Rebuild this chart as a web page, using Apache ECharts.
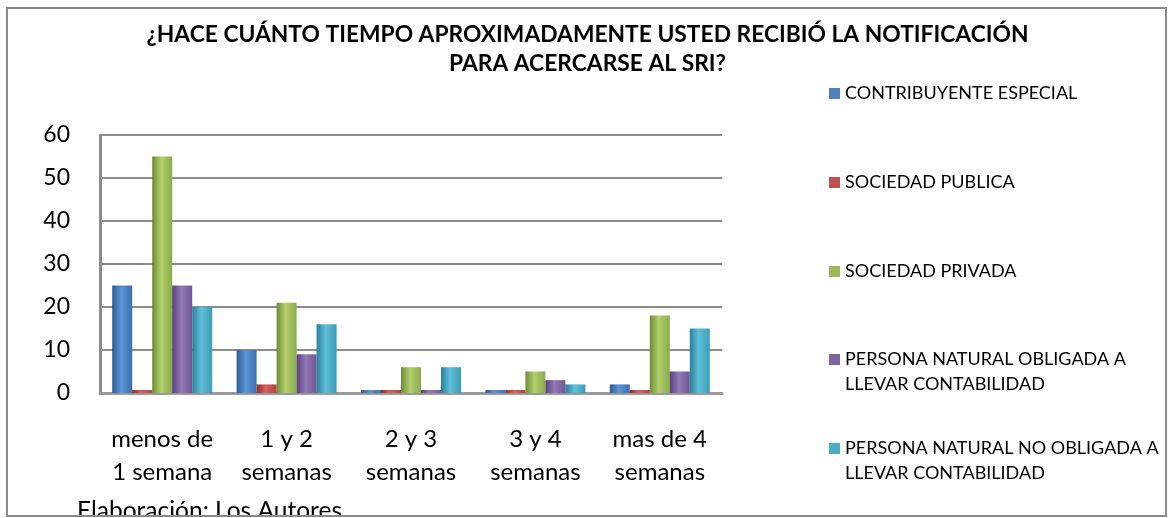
<!DOCTYPE html>
<html>
  <head>
    <title>Tiempo de notificacion SRI</title>
    <meta http-equiv="content-type" content="text/html; charset=UTF-8">
    <script src="https://cdn.jsdelivr.net/npm/echarts@6/dist/echarts.min.js"></script>
    <style>
      html, body { margin: 0; padding: 0; background: #fff; }
      #main { width: 1175px; height: 518px; }
    </style>
  </head>
  <body>
    <div id="main"></div>
  <script type="text/javascript">

// datos
var categories = ['menos de\n1 semana', '1 y 2\nsemanas', '2 y 3\nsemanas', '3 y 4\nsemanas', 'mas de 4\nsemanas'];
var seriesNames = [
  'CONTRIBUYENTE ESPECIAL',
  'SOCIEDAD PUBLICA',
  'SOCIEDAD PRIVADA',
  'PERSONA NATURAL OBLIGADA A\nLLEVAR CONTABILIDAD',
  'PERSONA NATURAL NO OBLIGADA A\nLLEVAR CONTABILIDAD'
];
var contribuyente = [25, 10, 0, 0, 2];
var sociedadPublica = [0, 2, 0, 0, 0];
var sociedadPrivada = [55, 21, 6, 5, 18];
var naturalObligada = [25, 9, 0, 3, 5];
var naturalNoObligada = [20, 16, 6, 2, 15];
var yMin = 0, yMax = 60, yStep = 10;

var values = [contribuyente, sociedadPublica, sociedadPrivada, naturalObligada, naturalNoObligada];

// colores: base, sombra izq, brillo, sombra der
var palette = [
  ['#4F81BD', '#2c5a93', '#5c95d6', '#3d6fae'],
  ['#C0504D', '#8f2f2c', '#d6615d', '#b0423f'],
  ['#9BBB59', '#6e8b36', '#b2d16b', '#8aa94a'],
  ['#8064A2', '#56407a', '#9479b8', '#715594'],
  ['#4BACC6', '#2a7f98', '#5fc0da', '#3e9bb5']
];
var legendTops = [76, 165, 254, 342, 431];
var FONT = 'Lato';

function cyl(p){
  return new echarts.graphic.LinearGradient(0, 0, 1, 0, [
    {offset: 0, color: p[1]},
    {offset: 0.45, color: p[2]},
    {offset: 1, color: p[3]}
  ]);
}

var series = [];
var legends = [];
for (var i = 0; i < seriesNames.length; i++) {
  series.push({
    name: seriesNames[i],
    type: 'bar',
    data: values[i],
    barWidth: 20,
    barGap: '0%',
    barMinHeight: 3,
    itemStyle: { color: cyl(palette[i]) }
  });
  var twoLines = seriesNames[i].indexOf('\n') >= 0;
  legends.push({
    left: 824,
    top: legendTops[i],
    orient: 'vertical',
    itemWidth: 11,
    itemHeight: twoLines ? 36 : 11,
    selectedMode: false,
    textStyle: { fontFamily: FONT, fontSize: 18, color: '#000', lineHeight: 25 },
    data: [{
      name: seriesNames[i],
      icon: twoLines ? 'path://M0,0L11,0L11,11L0,11Z M0,36L0.01,36Z' : 'rect',
      itemStyle: { color: palette[i][0] }
    }]
  });
}

var myChart = echarts.init(document.getElementById('main'));
var option = {
  backgroundColor: '#fff',
  animation: false,
  title: {
    text: '¿HACE CUÁNTO TIEMPO APROXIMADAMENTE USTED RECIBIÓ LA NOTIFICACIÓN\nPARA ACERCARSE AL SRI?',
    left: 'center',
    top: 15,
    textStyle: { fontFamily: FONT, fontSize: 22.8, fontWeight: 'bold', color: '#000', lineHeight: 29 }
  },
  legend: legends,
  grid: { left: 100, right: 453, top: 135, bottom: 125 },
  xAxis: {
    type: 'category',
    data: categories,
    axisTick: { show: false },
    axisLine: { lineStyle: { color: '#9a9a9a', width: 3 } },
    axisLabel: { fontFamily: FONT, fontSize: 24, color: '#000', margin: 30, lineHeight: 33, interval: 0 }
  },
  yAxis: {
    type: 'value',
    min: yMin,
    max: yMax,
    interval: yStep,
    axisLine: { show: true, lineStyle: { color: '#8c8c8c', width: 3 } },
    axisTick: { show: false },
    axisLabel: { fontFamily: FONT, fontSize: 23, color: '#000', margin: 30 },
    splitLine: { lineStyle: { color: '#8c8c8c', width: 2 } }
  },
  graphic: [
    {
      type: 'text', left: 77, top: 499, z: 10,
      style: { text: 'Elaboración: Los Autores', font: '24.5px ' + FONT, fill: '#000' }
    },
    {
      type: 'rect', shape: { x: 0, y: 516, width: 1175, height: 4 }, z: 20,
      style: { fill: '#fff' }
    },
    {
      type: 'rect', shape: { x: 7, y: 8, width: 1159, height: 508 }, z: 30,
      style: { fill: 'none', stroke: '#8a8a8a', lineWidth: 2 }
    }
  ],
  series: series
};

myChart.setOption(option);

  </script>
  </body>
</html>
